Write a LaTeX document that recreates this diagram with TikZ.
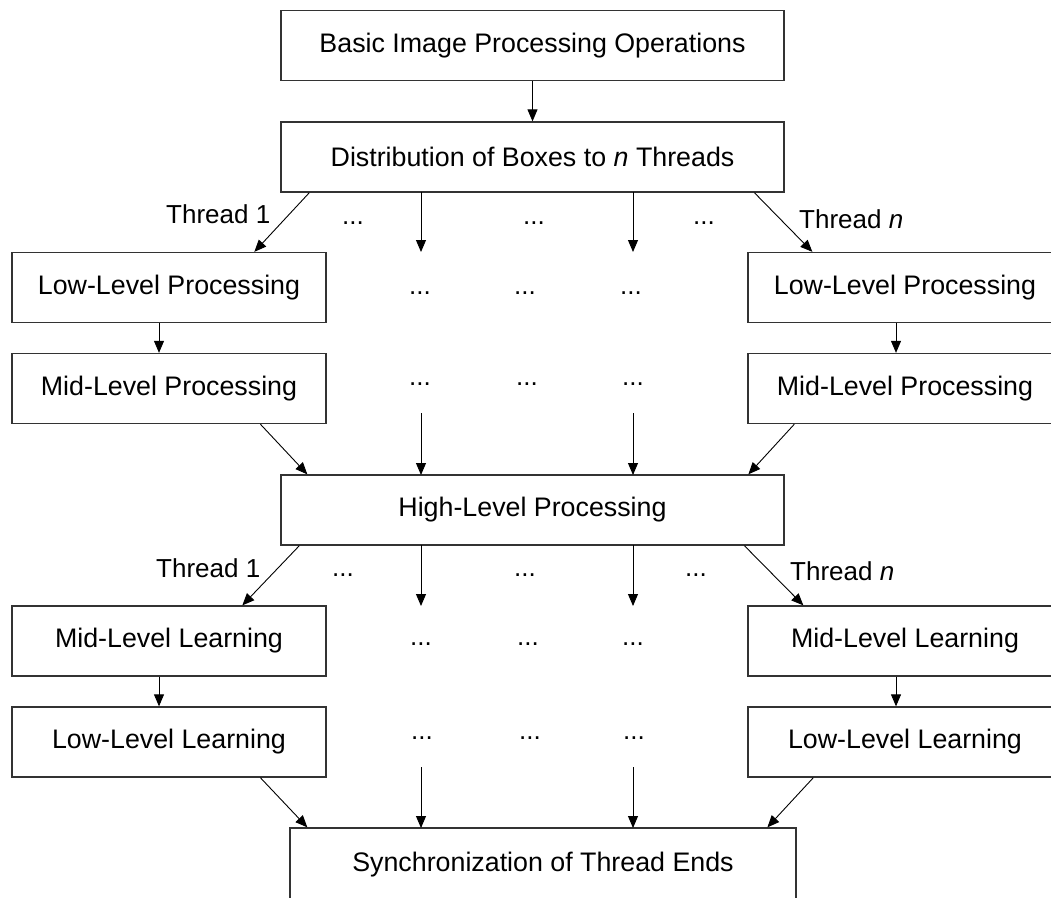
\documentclass[tikz,border=0pt]{standalone}
\usepackage{fontspec}
\setmainfont{Liberation Sans}
\usetikzlibrary{arrows.meta,calc}
\begin{document}
\begin{tikzpicture}[x=1pt,y=-1pt,
  box/.style={draw=black!80,line width=1.3pt,minimum height=70pt,inner sep=0pt,font=\fontsize{26.8}{31}\selectfont},
  wbox/.style={box,minimum width=503pt},
  sbox/.style={box,minimum width=314pt},
  conn/.style={line width=0.9pt,-{Triangle[length=12pt,width=10pt]}},
  lab/.style={anchor=base west,inner sep=0pt,font=\fontsize{26}{30}\selectfont},
  dots/.style={anchor=base,inner sep=0pt,font=\fontsize{26}{30}\selectfont}]
\clip (0,0) rectangle (1051,897);
\fill[white] (0,0) rectangle (1051,897);
% boxes
\node[wbox] (basic) at (532.5,45.5) {Basic Image Processing Operations};
\node[wbox] (dist) at (532.5,157) {Distribution of Boxes to \textit{n} Threads};
\node[sbox] (low1) at (169,287.5) {Low-Level Processing};
\node[sbox] (lown) at (905,287.5) {Low-Level Processing};
\node[sbox] (mid1) at (169,388.5) {Mid-Level Processing};
\node[sbox] (midn) at (905,388.5) {Mid-Level Processing};
\node[wbox] (high) at (532.5,510) {High-Level Processing};
\node[sbox] (ml1) at (169,641) {Mid-Level Learning};
\node[sbox] (mln) at (905,641) {Mid-Level Learning};
\node[sbox] (ll1) at (169,742) {Low-Level Learning};
\node[sbox] (lln) at (905,742) {Low-Level Learning};
\node[box,minimum width=506pt,minimum height=74pt] (sync) at (543,865) {\raisebox{2pt}{Synchronization of Thread Ends}};
% labels
\node[lab] (t1a) at (166,223) {Thread 1};
\node[lab] (tna) at (799,228) {Thread \textit{n}};
\node[lab] (t1b) at (156,577) {Thread 1};
\node[lab] (tnb) at (790,580) {Thread \textit{n}};
% dots
\foreach \x/\y/\n in {353/224/a1,534/224/a2,704/224/a3,
  420/294/b1,525/294/b2,631/294/b3,
  420/385/c1,527/385/c2,633/385/c3,
  343/576/d1,525/576/d2,696/576/d3,
  421/645/e1,528/645/e2,633/645/e3,
  422/739/f1,530/739/f2,634/739/f3}
  \node[dots] (dot\n) at (\x,\y) {...};
% free-end coordinates
\coordinate (p1s) at (421,192); \coordinate (p1e) at (421,252);
\coordinate (p2s) at (633,192); \coordinate (p2e) at (633,252);
\coordinate (q1s) at (421,413); \coordinate (q1e) at (421,475);
\coordinate (q2s) at (633,413); \coordinate (q2e) at (633,475);
\coordinate (r1s) at (421,545); \coordinate (r1e) at (421,606);
\coordinate (r2s) at (633,545); \coordinate (r2e) at (633,606);
\coordinate (s1s) at (421,767); \coordinate (s1e) at (421,828);
\coordinate (s2s) at (633,767); \coordinate (s2e) at (633,828);
% connectors
\draw[conn] (basic.south) -- (dist.north);
\draw[conn] ($(dist.south west)+(29,0)$) -- ($(low1.north west)+(243,0)$);
\draw[conn] (p1s) -- (p1e);
\draw[conn] (p2s) -- (p2e);
\draw[conn] ($(dist.south west)+(474,0)$) -- ($(lown.north west)+(65,0)$);
\draw[conn] ($(low1.south)+(-10,0)$) -- ($(mid1.north)+(-10,0)$);
\draw[conn] ($(lown.south)+(-9,0)$) -- ($(midn.north)+(-9,0)$);
\draw[conn] ($(mid1.south west)+(249,0)$) -- ($(high.north west)+(27,0)$);
\draw[conn] (q1s) -- (q1e);
\draw[conn] (q2s) -- (q2e);
\draw[conn] ($(midn.south west)+(47,0)$) -- ($(high.north west)+(468,0)$);
\draw[conn] ($(high.south west)+(19,0)$) -- ($(ml1.north west)+(231,0)$);
\draw[conn] (r1s) -- (r1e);
\draw[conn] (r2s) -- (r2e);
\draw[conn] ($(high.south west)+(464,0)$) -- ($(mln.north west)+(56,0)$);
\draw[conn] ($(ml1.south)+(-10,0)$) -- ($(ll1.north)+(-10,0)$);
\draw[conn] ($(mln.south)+(-9,0)$) -- ($(lln.north)+(-9,0)$);
\draw[conn] ($(ll1.south west)+(249,0)$) -- ($(sync.north west)+(18,0)$);
\draw[conn] (s1s) -- (s1e);
\draw[conn] (s2s) -- (s2e);
\draw[conn] ($(lln.south west)+(66,0)$) -- ($(sync.north west)+(478,0)$);
\end{tikzpicture}
\end{document}
